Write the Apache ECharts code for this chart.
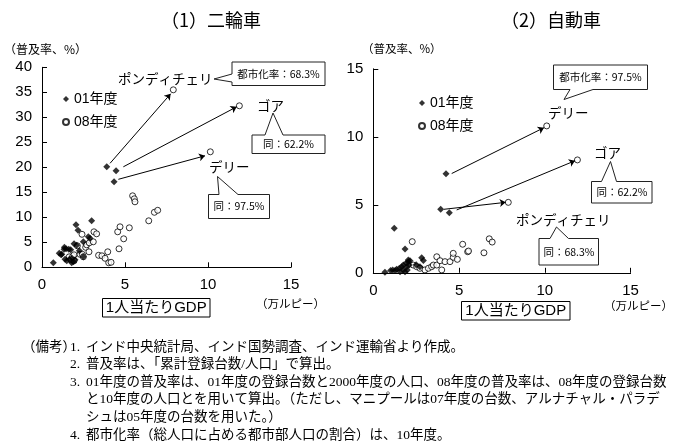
<!DOCTYPE html>
<html>
<head>
<meta charset="utf-8">
<script src="https://cdn.jsdelivr.net/npm/echarts@6/dist/echarts.min.js"></script>
<style>
  body { margin: 0; background: #fff; }
  #chart { width: 685px; height: 445px; }
</style>
</head>
<body>
<div id="chart"></div>
<script>
let chartDom = document.getElementById("chart");

// data: [1人当たりGDP (万ルピー), 普及率 (%)]
let seriesNames = ['01年度', '08年度'];
let panelTitles = ['（1）二輪車', '（2）自動車'];

let twoWheel01 = [
  [0.68, 0.9], [1.04, 2.8], [1.15, 2.5], [1.19, 2.6], [1.33, 3.6], [1.35, 4.0], [1.45, 3.7],
  [1.61, 3.6], [1.73, 3.5], [1.39, 1.6], [1.49, 1.3], [1.65, 1.6], [1.81, 1.8], [1.89, 1.1],
  [1.99, 1.5], [1.79, 0.9], [1.93, 4.7], [2.09, 4.4], [2.25, 3.3], [2.49, 2.1], [2.49, 5.1],
  [2.17, 7.4], [2.05, 8.5], [2.79, 6.1], [2.89, 5.8], [2.99, 9.3],
  [3.9, 20.1], [4.46, 19.3], [4.34, 17.1]
];
let twoWheel08 = [
  [1.64, 2.1], [1.75, 1.5], [1.93, 1.3], [1.85, 2.2], [1.93, 2.5], [2.13, 4.3], [2.29, 2.6],
  [2.43, 2.6], [2.49, 2.1], [2.41, 6.6], [2.63, 4.0], [2.69, 4.5], [2.83, 3.1], [2.85, 4.9],
  [3.09, 5.1], [3.13, 7.1], [3.29, 6.7], [3.41, 2.4], [3.61, 2.3], [3.8, 1.8], [3.96, 3.1],
  [4.02, 0.9], [4.16, 1.0], [4.64, 3.7], [4.56, 7.1], [4.7, 8.1], [4.92, 5.7], [5.26, 7.9],
  [5.46, 14.3], [5.56, 13.7], [5.6, 13.1], [6.43, 9.3], [6.77, 11.0], [6.97, 11.4],
  [7.91, 35.5], [11.89, 32.3], [10.14, 23.1]
];
let car01 = [
  [0.68, 0.04], [1.01, 0.16], [1.13, 0.21], [1.27, 0.16], [1.36, 0.26], [1.52, 0.33],
  [1.66, 0.45], [1.75, 0.57], [1.91, 0.7], [2.04, 0.82], [2.14, 0.89], [1.95, 0.45],
  [2.1, 0.57], [1.56, 0.08], [1.75, 0.21], [1.85, 0.08], [1.98, 0.21], [2.04, 0.94],
  [2.5, 0.6], [2.72, 0.45], [2.82, 1.1], [2.92, 0.9], [1.22, 3.27], [1.85, 1.75],
  [4.24, 7.29], [3.93, 4.67], [4.43, 4.42]
];
let car08 = [
  [2.27, 2.29], [2.33, 0.57], [2.53, 0.45], [2.72, 0.33], [3.01, 0.21], [3.21, 0.33],
  [3.4, 0.45], [3.5, 0.57], [3.7, 0.57], [3.7, 1.18], [3.89, 0.89], [3.99, 0.21],
  [4.18, 0.82], [4.47, 0.82], [4.66, 1.14], [4.66, 1.43], [4.9, 0.99], [5.21, 2.1],
  [5.5, 1.55], [5.55, 1.6], [6.45, 1.47], [6.76, 2.5], [6.93, 2.26],
  [7.87, 5.18], [11.9, 8.3], [10.11, 10.8]
];

// arrows from 01年度 to 08年度 (ポンディチェリ, ゴア, デリー)
let twoWheelArrows = [
  [[4.1, 20.8], [7.75, 34.7]],
  [[4.9, 20.1], [11.73, 32.1]],
  [[4.6, 17.6], [9.82, 22.3]]
];
let carArrows = [
  [[4.57, 7.3], [9.95, 10.67]],
  [[4.86, 4.62], [11.76, 8.24]],
  [[4.12, 4.67], [7.72, 5.18]]
];

let notes = [
  ['1.', 'インド中央統計局、インド国勢調査、インド運輸省より作成。'],
  ['2.', '普及率は、「累計登録台数/人口」で算出。'],
  ['3.', '01年度の普及率は、01年度の登録台数と2000年度の人口、08年度の普及率は、08年度の登録台数'],
  ['', 'と10年度の人口とを用いて算出。（ただし、マニプールは07年度の台数、アルナチャル・パラデ'],
  ['', 'シュは05年度の台数を用いた。）'],
  ['4.', '都市化率（総人口に占める都市部人口の割合）は、10年度。']
];

let sans = "'Liberation Sans', 'Noto Sans CJK JP', sans-serif";
let jp = "'Noto Sans CJK JP', sans-serif";
let serif = "'Liberation Serif', 'Noto Sans CJK JP', serif";

function xAxisFor(i, margin) {
  return {
    type: 'value', gridIndex: i, min: 0, max: 15, interval: 5,
    axisLine: { show: true, lineStyle: { color: '#000', width: 1 } },
    axisTick: { show: true, inside: true, length: 5, lineStyle: { color: '#000' } },
    splitLine: { show: false },
    axisLabel: { color: '#000', fontSize: 15, fontFamily: sans, margin: margin }
  };
}
function yAxisFor(i, max) {
  return {
    type: 'value', gridIndex: i, min: 0, max: max, interval: 5,
    axisLine: { show: true, lineStyle: { color: '#000', width: 1 } },
    axisTick: { show: true, inside: true, length: 5, lineStyle: { color: '#000' } },
    splitLine: { show: false },
    axisLabel: { color: '#000', fontSize: 15, fontFamily: sans, margin: 10 }
  };
}
function scatterFor(i, name, data) {
  let filled = name === seriesNames[0];
  return {
    type: 'scatter', name: name, xAxisIndex: i, yAxisIndex: i, data: data,
    symbol: filled ? 'diamond' : 'circle',
    symbolSize: filled ? 7 : 6,
    itemStyle: filled ? { color: '#000' } : { color: '#fff', borderColor: '#000', borderWidth: 1 },
    z: filled ? 3 : 2
  };
}
function arrowsFor(i, arrows) {
  return {
    type: 'lines', coordinateSystem: 'cartesian2d', xAxisIndex: i, yAxisIndex: i,
    symbol: ['none', 'arrow'], symbolSize: 6, silent: true,
    lineStyle: { color: '#000', width: 1, opacity: 1 },
    data: arrows.map(a => ({ coords: a })), z: 4
  };
}
function text(x, y, str, size, family, align) {
  return {
    type: 'text', x: x, y: y, z: 10,
    style: { text: str, fontSize: size, fontFamily: family, fill: '#000',
             align: align || 'left', verticalAlign: 'middle' }
  };
}
function callout(points, cx, cy, str) {
  return [
    { type: 'polygon', z: 9, shape: { points: points },
      style: { fill: '#fff', stroke: '#222', lineWidth: 1 } },
    text(cx, cy, str, 10.5, jp, 'center')
  ];
}
function box(x, y, w, h, str) {
  return [
    { type: 'rect', z: 9, shape: { x: x, y: y, width: w, height: h },
      style: { fill: '#fff', stroke: '#000', lineWidth: 1 } },
    text(x + w / 2, y + h / 2 + 0.5, str, 15, sans, 'center')
  ];
}
function legendFor(left, top) {
  return {
    data: seriesNames, orient: 'vertical', left: left, top: top, padding: 0, itemGap: 9,
    itemWidth: 6, itemHeight: 6, textStyle: { fontSize: 14, fontFamily: sans, color: '#000' }
  };
}

let graphics = [
  text(211, 20, panelTitles[0], 18, jp, 'center'),
  text(551, 20, panelTitles[1], 18, jp, 'center'),
  text(4, 49, '（普及率、%）', 12, jp),
  text(362, 49, '（普及率、%）', 11.5, jp),
  text(256, 303.5, '（万ルピー）', 11.5, jp),
  text(604, 305.5, '（万ルピー）', 11.5, jp),
  // left panel labels
  text(118, 79, 'ポンディチェリ', 13.5, jp),
  text(257, 106, 'ゴア', 13.5, jp),
  text(209, 167, 'デリー', 13.5, jp),
  // right panel labels
  text(548, 113, 'デリー', 13.5, jp),
  text(594, 153, 'ゴア', 13.5, jp),
  text(516, 220, 'ポンディチェリ', 13.5, jp)
];
graphics = graphics.concat(
  callout([[232, 62], [325, 62], [325, 85.5], [232, 85.5], [232, 82], [214, 79], [232, 74]],
    278.5, 74, '都市化率：68.3%'),
  callout([[252, 135], [265, 135], [273, 113], [283, 135], [325, 135], [325, 153.5], [252, 153.5]],
    288.5, 144.5, '同：62.2%'),
  callout([[208.5, 194.5], [219, 194.5], [217.5, 176.5], [238, 194.5], [269.5, 194.5], [269.5, 218.5], [208.5, 218.5]],
    239, 206.5, '同：97.5%'),
  callout([[553.5, 65], [647.5, 65], [647.5, 89.5], [593, 89.5], [564, 99.5], [570, 89.5], [553.5, 89.5]],
    600.5, 77.5, '都市化率：97.5%'),
  callout([[591.5, 181.5], [601.5, 181.5], [610.5, 161.5], [616.5, 181.5], [652, 181.5], [652, 203], [591.5, 203]],
    622, 192.5, '同：62.2%'),
  callout([[539, 238.5], [550, 238.5], [556.5, 227], [568.5, 238.5], [598.5, 238.5], [598.5, 265], [539, 265]],
    569, 252, '同：68.3%'),
  box(102.5, 298.5, 107.5, 18.5, '1人当たりGDP'),
  box(461.5, 301.5, 108.5, 18.5, '1人当たりGDP')
);

// notes
graphics.push(text(22, 347, '（備考）', 13.5, serif));
for (let i = 0; i < notes.length; i++) {
  let y = 347 + i * 17.6;
  if (notes[i][0]) graphics.push(text(70, y, notes[i][0], 13.5, serif));
  graphics.push(text(86, y, notes[i][1], 13.5, serif));
}

let myChart = echarts.init(chartDom, null, { renderer: 'canvas' });

let option = {
  backgroundColor: '#fff',
  animation: false,
  grid: [
    { left: 42, top: 67.3, width: 249, height: 200, outerBoundsMode: 'none' },
    { left: 373.3, top: 68.8, width: 257.3, height: 204, outerBoundsMode: 'none' }
  ],
  legend: [legendFor(62, 92), legendFor(418, 96)],
  xAxis: [xAxisFor(0, 10), xAxisFor(1, 11)],
  yAxis: [yAxisFor(0, 40), yAxisFor(1, 15)],
  series: [
    scatterFor(0, seriesNames[0], twoWheel01),
    scatterFor(0, seriesNames[1], twoWheel08),
    scatterFor(1, seriesNames[0], car01),
    scatterFor(1, seriesNames[1], car08),
    arrowsFor(0, twoWheelArrows),
    arrowsFor(1, carArrows)
  ],
  graphic: graphics
};

myChart.setOption(option);
</script>
</body>
</html>
